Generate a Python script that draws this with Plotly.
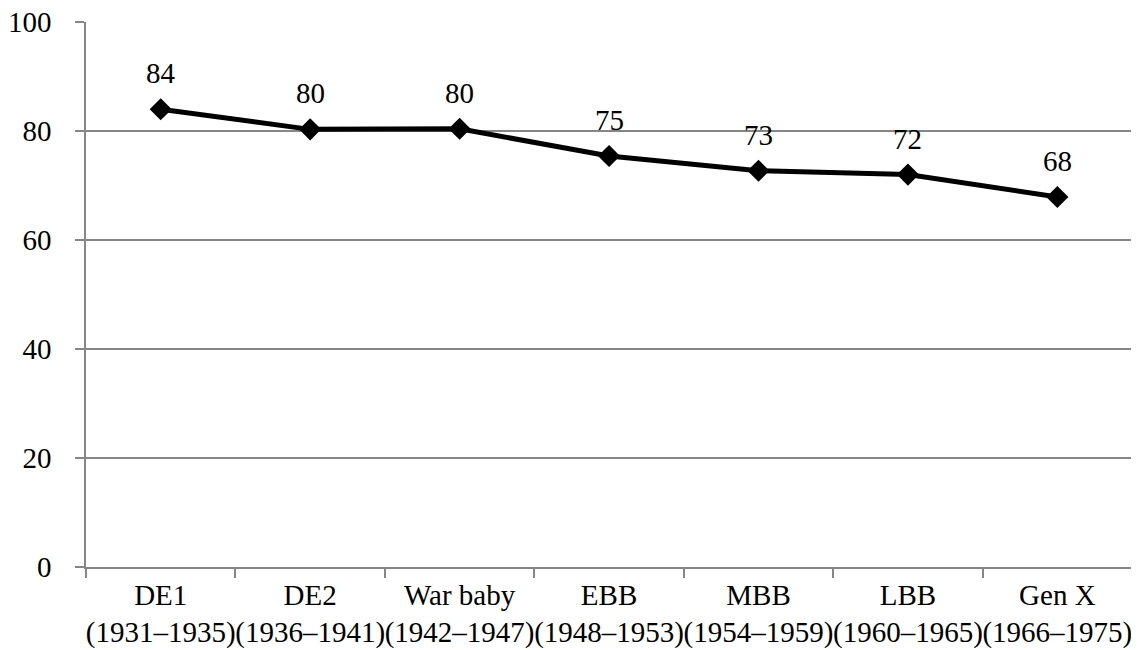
import plotly.graph_objects as go

# cohorts and values
cohorts = ['DE1', 'DE2', 'War baby', 'EBB', 'MBB', 'LBB', 'Gen X']
years = ['(1931–1935)', '(1936–1941)', '(1942–1947)', '(1948–1953)',
         '(1954–1959)', '(1960–1965)', '(1966–1975)']
values = [84.0, 80.3, 80.4, 75.4, 72.7, 72.0, 67.9]
labels = ['84', '80', '80', '75', '73', '72', '68']

y_ticks = [0, 20, 40, 60, 80, 100]

tick_text = [f'{c}<br>{y}' for c, y in zip(cohorts, years)]
x_pos = list(range(len(cohorts)))

grid = '#868686'
font = 'Liberation Serif, Times New Roman, serif'

fig = go.Figure()
fig.add_trace(
    go.Scatter(x=x_pos,
               y=values,
               mode='lines+markers',
               line=dict(color='#000000', width=5),
               marker=dict(symbol='diamond', size=17, color='#000000'),
               showlegend=False,
               hoverinfo='skip'))

# data labels above the points
for x, v, t in zip(x_pos, values, labels):
    fig.add_annotation(x=x, y=v, text=t, showarrow=False, yshift=36,
                       font=dict(size=29, color='#000000', family=font))

# page body adds 8px around the figure, so margins are trimmed by that
fig.update_layout(
    width=1131,
    height=642,
    margin=dict(l=78, r=0, t=14, b=83),
    plot_bgcolor='#FFFFFF',
    paper_bgcolor='#FFFFFF',
    font=dict(family=font, size=29, color='#000000'),
    xaxis=dict(
        range=[-0.5, 6.5 + 7 / 151.5],
        tickmode='array',
        tickvals=x_pos,
        ticktext=tick_text,
        tickangle=0,
        automargin=False,
        ticklabeloverflow='allow',
        ticklabelstandoff=1,
        showgrid=False,
        showline=True,
        linecolor=grid,
        linewidth=1.5,
        zeroline=False,
        ticks='',
        minor=dict(tickmode='array', tickvals=[i - 0.5 for i in range(8)],
                   ticks='outside', ticklen=9, tickcolor=grid, tickwidth=1.5),
        tickfont=dict(size=29),
    ),
    yaxis=dict(
        range=[0, 100],
        tickmode='array',
        tickvals=y_ticks,
        automargin=False,
        ticklabeloverflow='allow',
        showgrid=True,
        gridcolor=grid,
        gridwidth=1.5,
        showline=True,
        linecolor=grid,
        linewidth=1.5,
        zeroline=False,
        ticks='outside',
        ticklen=9,
        tickcolor=grid,
        tickwidth=1.5,
        ticklabelstandoff=18,
        tickfont=dict(size=29),
    ),
)

fig.write_html("out.html")
